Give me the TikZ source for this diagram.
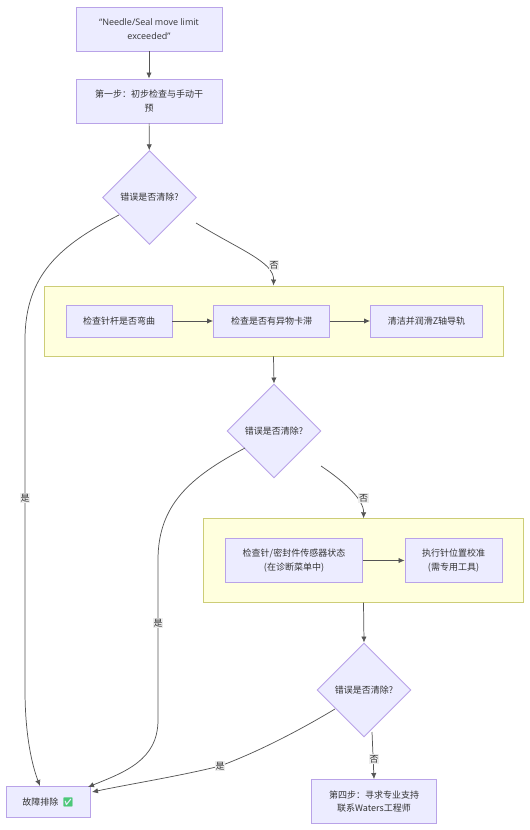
\documentclass[tikz,border=0pt]{standalone}
\usepackage{fontspec}
\usepackage{xcolor}
\usetikzlibrary{arrows.meta, shapes.geometric}
\setmainfont{Noto Sans CJK SC}
\newfontfamily\latinfont{Open Sans}
\newfontfamily\emojifont{Noto Emoji}
\definecolor{node-fill}{HTML}{ECECFF}
\definecolor{node-line}{HTML}{B9A3E8}
\definecolor{group-fill}{HTML}{FFFFDE}
\definecolor{group-line}{HTML}{CDCD77}
\definecolor{edge-line}{HTML}{555555}
\definecolor{label-fill}{HTML}{EDEDED}
\definecolor{check-green}{HTML}{4CC878}
\tikzset{
  boxnode/.style={draw=node-line, fill=node-fill, line width=0.7pt, align=center,
    text=black!80, inner sep=0pt},
  choicenode/.style={boxnode, diamond, aspect=1, minimum width=70.5pt, minimum height=70.5pt},
  groupnode/.style={draw=group-line, fill=group-fill, line width=0.7pt, inner sep=0pt},
  edgelabel/.style={fill=label-fill, text=black!80, inner sep=0.6pt}
}
\begin{document}
\begin{tikzpicture}[x=0.75pt, y=-0.75pt, >={Latex[length=4.5pt,width=4pt]},
      every node/.style={font=\fontsize{6.75}{10}\selectfont},
      flow/.style={->, draw=edge-line, line width=0.55pt}]
    \useasboundingbox (0,0) rectangle (529,830);

    % yellow groups go first so that the boxes sit on top
    \node[groupnode, minimum width=344.25pt, minimum height=52.5pt] (G1) at (273.5,321) {};
    \node[groupnode, minimum width=240pt, minimum height=62.6pt] (G2) at (363.5,560.5) {};

    % main column
    \node[boxnode, minimum width=109.5pt, minimum height=33pt] (Start) at (149,29)
      {\latinfont “Needle/Seal move limit\\\latinfont exceeded”};
    \node[boxnode, minimum width=109.5pt, minimum height=33pt] (Step1) at (149,101)
      {第一步：初步检查与手动干\\预};
    \foreach \name/\x/\y in {Q1/149.5/197.5, Q2/274/431, Q3/364/690} {
      \node[choicenode] (\name) at (\x,\y) {错误是否清除?};
    }

    % first group
    \node[boxnode, minimum width=79.5pt, minimum height=24pt] (Bent) at (119,321) {检查针杆是否弯曲};
    \node[boxnode, minimum width=87pt, minimum height=24pt] (Stuck) at (271.5,321) {检查是否有异物卡滞};
    \node[boxnode, minimum width=84pt, minimum height=24pt] (Clean) at (426.5,321) {清洁并润滑Z轴导轨};

    % second group
    \node[boxnode, minimum width=103pt, minimum height=33.4pt] (Sensor) at (294,560.5)
      {检查针/密封件传感器状态\\(在诊断菜单中)};
    \node[boxnode, minimum width=72.75pt, minimum height=33.4pt] (Calib) at (453.5,560.5)
      {执行针位置校准\\(需专用工具)};

    % bottom row
    \node[boxnode, minimum width=63pt, minimum height=23.25pt] (Fixed) at (48,802)
      {故障排除\ \ \textcolor{check-green}{\emojifont ✅}};
    \node[boxnode, minimum width=93.75pt, minimum height=33pt] (Step4) at (374,801.5)
      {第四步：寻求专业支持\\联系Waters工程师};

    % free ends of the curved edges, they stop short of the diamonds
    \coordinate (Q1yes) at (119,215);
    \coordinate (Q1no) at (196,223);
    \coordinate (Q2yes) at (245,448);
    \coordinate (Q2no) at (321,466);
    \coordinate (Q3yes) at (335,709);
    \coordinate (Q3no) at (372,732);
    \coordinate (FixedA) at (40,786);
    \coordinate (FixedB) at (88,787);
    \coordinate (FixedC) at (92,792);

    % straight edges
    \draw[flow] (Start) -- (Step1);
    \draw[flow] (Step1) -- (Q1);
    \draw[flow] (G1.south) -- (Q2.north);
    \draw[flow] (G2.south) -- (Q3.north);
    \draw[flow] (Bent) -- (Stuck);
    \draw[flow] (Stuck) -- (Clean);
    \draw[flow] (Sensor) -- (Calib);
    \draw[flow] (Q3no) -- (Step4.north);

    % curved edges
    \draw[flow] (Q1no) .. controls (240,250) and (274,262) .. (G1.north);
    \draw[flow] (Q2no) .. controls (345,482) and (364,500) .. (G2.north);
    \draw[flow] (Q1yes) .. controls (60,245) and (25,275) .. (25,340) -- (25,690)
      .. controls (25,735) and (32,765) .. (FixedA);
    \draw[flow] (Q2yes) .. controls (190,477) and (158,505) .. (158,560) -- (158,720)
      .. controls (158,760) and (125,772) .. (FixedB);
    \draw[flow] (Q3yes) .. controls (295,733) and (255,753) .. (220,766)
      .. controls (180,776) and (130,784) .. (FixedC);

    % edge labels sit on the lines
    \node[edgelabel] (L1no) at (274,265) {否};
    \node[edgelabel] (L1yes) at (25,498) {是};
    \node[edgelabel] (L2no) at (363.5,498) {否};
    \node[edgelabel] (L2yes) at (158,623) {是};
    \node[edgelabel] (L3no) at (374,759) {否};
    \node[edgelabel] (L3yes) at (220,766) {是};
  \end{tikzpicture}
\end{document}
